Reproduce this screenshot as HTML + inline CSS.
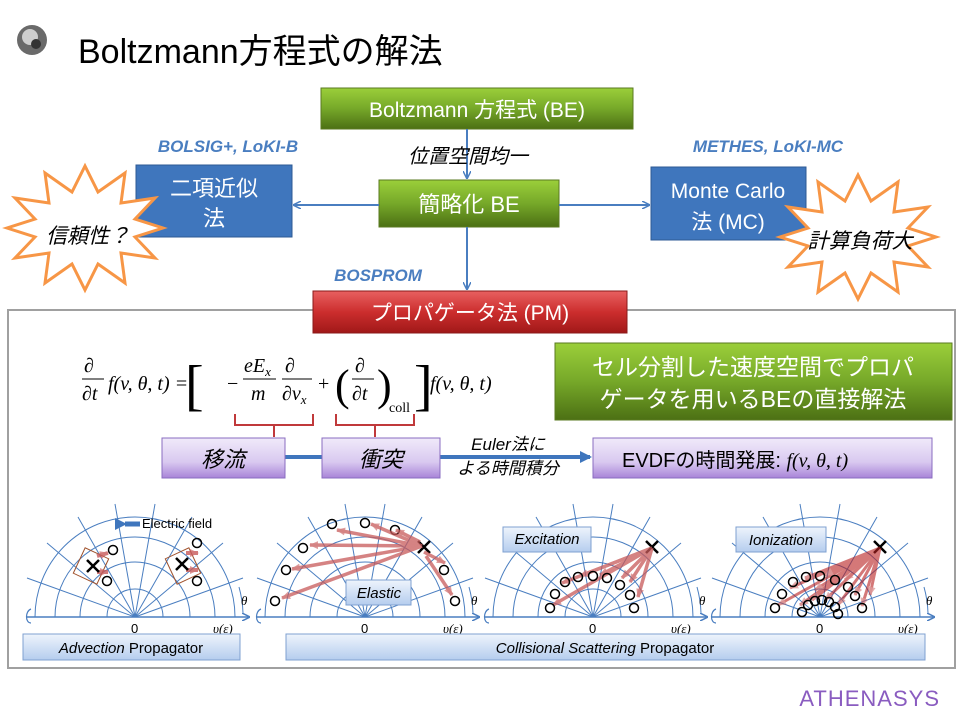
<!DOCTYPE html>
<html><head><meta charset="utf-8"><style>
html,body{margin:0;padding:0;background:#fff;}
svg{display:block;font-family:"Liberation Sans","Noto Sans CJK JP",sans-serif;}
.m{font-family:"Liberation Serif","DejaVu Serif",serif;font-style:italic;}
</style></head><body>
<svg width="960" height="720" viewBox="0 0 960 720" xmlns="http://www.w3.org/2000/svg">
<defs>
<linearGradient id="gg" x1="0" y1="0" x2="0" y2="1"><stop offset="0" stop-color="#9bcf3a"/><stop offset="0.5" stop-color="#76a829"/><stop offset="1" stop-color="#4c7014"/></linearGradient>
<linearGradient id="rg" x1="0" y1="0" x2="0" y2="1"><stop offset="0" stop-color="#e86060"/><stop offset="0.5" stop-color="#cc2e2e"/><stop offset="1" stop-color="#a01818"/></linearGradient>
<linearGradient id="pg" x1="0" y1="0" x2="0" y2="1"><stop offset="0" stop-color="#f0eafa"/><stop offset="0.6" stop-color="#d9c9f0"/><stop offset="1" stop-color="#a884d8"/></linearGradient>
<linearGradient id="lb" x1="0" y1="0" x2="0" y2="1"><stop offset="0" stop-color="#eef4fc"/><stop offset="1" stop-color="#b5cdee"/></linearGradient>
<marker id="ab" markerWidth="8" markerHeight="8" refX="7" refY="4" orient="auto" markerUnits="userSpaceOnUse"><path d="M0,0 L8,4 L0,8" fill="none" stroke="#4a7ec0" stroke-width="1.5"/></marker>
<marker id="abf" markerWidth="12" markerHeight="12" refX="10" refY="6" orient="auto" markerUnits="userSpaceOnUse"><path d="M0,0 L12,6 L0,12 z" fill="#3f76bd"/></marker>
<marker id="ar" markerWidth="10" markerHeight="10" refX="8" refY="5" orient="auto" markerUnits="userSpaceOnUse"><path d="M0,1 L9,5 L0,9 z" fill="#c85a5a" opacity="0.8"/></marker>
<polygon id="star" points="78,0 50,9 70,30 36,25 40,55 13,36 0,62 -13,36 -40,55 -36,25 -70,30 -50,9 -78,0 -50,-9 -70,-30 -36,-25 -40,-55 -13,-36 0,-62 13,-36 40,-55 36,-25 70,-30 50,-9" fill="#fff" stroke="#f79646" stroke-width="3" stroke-linejoin="miter"/>
<g id="grid" fill="none" stroke="#4a7ec0" stroke-width="1">
<path d="M-100,0 A100,100 0 0 1 100,0 M-80,0 A80,80 0 0 1 80,0 M-55,0 A55,55 0 0 1 55,0 M-28,0 A28,28 0 0 1 28,0"/>
<path d="M0,0 L108,-39 M0,0 L88,-74 M0,0 L57,-100 M0,0 L20,-113 M0,0 L-108,-39 M0,0 L-88,-74 M0,0 L-57,-100 M0,0 L-20,-113"/>
<path d="M-108,0 L114,0" stroke-width="1.5" marker-end="url(#ab)"/>
<path d="M-104,-8 C-110,-6 -110,6 -104,6" stroke-width="1.2"/>
<path d="M104,-30 A110,110 0 0 1 108,-4" stroke-width="1"/>
<text x="-4" y="16" font-size="13" fill="#000" stroke="none">0</text>
<text x="78" y="16" font-size="13" class="m" fill="#000" stroke="none">υ(ε)</text>
<text x="106" y="-12" font-size="13" class="m" fill="#000" stroke="none">θ</text>
</g>
</defs>

<!-- header -->
<circle cx="32" cy="40" r="15" fill="#6a6a6a"/><circle cx="30" cy="37" r="8" fill="#cfcfcf"/><circle cx="36" cy="44" r="5" fill="#333"/>
<text x="78" y="63" font-size="34" fill="#000">Boltzmann方程式の解法</text>

<!-- top flow -->
<rect x="321" y="88" width="312" height="41" fill="url(#gg)" stroke="#5a7a20" stroke-width="1"/>
<text x="477" y="117" font-size="21" fill="#fff" text-anchor="middle">Boltzmann 方程式 (BE)</text>
<line x1="467" y1="129" x2="467" y2="178" stroke="#4a7ec0" stroke-width="2" marker-end="url(#ab)"/>
<text x="468" y="163" font-size="20" font-style="italic" fill="#000" text-anchor="middle">位置空間均一</text>
<rect x="379" y="180" width="180" height="47" fill="url(#gg)" stroke="#5a7a20"/>
<text x="469" y="212" font-size="22" fill="#fff" text-anchor="middle">簡略化 BE</text>
<line x1="379" y1="205" x2="294" y2="205" stroke="#4a7ec0" stroke-width="2" marker-end="url(#ab)"/>
<line x1="559" y1="205" x2="649" y2="205" stroke="#4a7ec0" stroke-width="2" marker-end="url(#ab)"/>
<line x1="467" y1="227" x2="467" y2="289" stroke="#4a7ec0" stroke-width="2" marker-end="url(#ab)"/>

<text x="228" y="152" font-size="17" font-weight="bold" font-style="italic" fill="#4a7ec0" text-anchor="middle">BOLSIG+, LoKI-B</text>
<rect x="136" y="165" width="156" height="72" fill="#3f76bd" stroke="#2d5a94"/>
<text x="214" y="196" font-size="22" fill="#fff" text-anchor="middle">二項近似</text>
<text x="214" y="226" font-size="22" fill="#fff" text-anchor="middle">法</text>
<text x="768" y="152" font-size="17" font-weight="bold" font-style="italic" fill="#4a7ec0" text-anchor="middle">METHES, LoKI-MC</text>
<rect x="651" y="167" width="155" height="73" fill="#3f76bd" stroke="#2d5a94"/>
<text x="728" y="198" font-size="21" fill="#fff" text-anchor="middle">Monte Carlo</text>
<text x="728" y="229" font-size="21" fill="#fff" text-anchor="middle">法 (MC)</text>
<use href="#star" transform="translate(85,228)"/>
<text x="88" y="243" font-size="21" font-style="italic" fill="#000" text-anchor="middle">信頼性？</text>
<use href="#star" transform="translate(858,237)"/>
<text x="860" y="248" font-size="21" font-style="italic" fill="#000" text-anchor="middle">計算負荷大</text>
<text x="378" y="281" font-size="17" font-weight="bold" font-style="italic" fill="#4a7ec0" text-anchor="middle">BOSPROM</text>

<!-- main frame -->
<rect x="8" y="310" width="947" height="358" fill="#fff" stroke="#a0a0a0" stroke-width="2"/>
<rect x="313" y="291" width="314" height="42" fill="url(#rg)" stroke="#8a1a1a"/>
<text x="470" y="320" font-size="21" fill="#fff" text-anchor="middle">プロパゲータ法 (PM)</text>

<!-- formula -->
<g class="m" font-size="20" fill="#000">
<text x="84" y="372">∂</text><line x1="82" y1="379" x2="104" y2="379" stroke="#000" stroke-width="1"/><text x="82" y="400">∂t</text>
<text x="108" y="390">f(v, θ, t) =</text>
<text x="185" y="404" font-size="56" font-style="normal">[</text>
<text x="227" y="390" font-style="normal">−</text>
<text x="244" y="372">eE<tspan font-size="13" dy="4">x</tspan></text><line x1="243" y1="379" x2="276" y2="379" stroke="#000"/><text x="251" y="400">m</text>
<text x="285" y="372">∂</text><line x1="282" y1="379" x2="312" y2="379" stroke="#000"/><text x="282" y="400">∂v<tspan font-size="13" dy="4">x</tspan></text>
<text x="318" y="390" font-style="normal">+</text>
<text x="335" y="400" font-size="44" font-style="normal">(</text>
<text x="355" y="372">∂</text><line x1="352" y1="379" x2="374" y2="379" stroke="#000"/><text x="352" y="400">∂t</text>
<text x="377" y="400" font-size="44" font-style="normal">)</text>
<text x="389" y="412" font-size="14" font-style="normal">coll</text>
<text x="414" y="404" font-size="56" font-style="normal">]</text>
<text x="430" y="390">f(v, θ, t)</text>
</g>
<path d="M235,414 V425 H274 V437 M274,425 H313 V414" fill="none" stroke="#c0393b" stroke-width="2"/>
<path d="M336,414 V425 H375 V437 M375,425 H414 V414" fill="none" stroke="#c0393b" stroke-width="2"/>

<rect x="555" y="343" width="397" height="77" fill="url(#gg)" stroke="#5a7a20"/>
<text x="753" y="375" font-size="23" fill="#fff" text-anchor="middle">セル分割した速度空間でプロパ</text>
<text x="753" y="407" font-size="23" fill="#fff" text-anchor="middle">ゲータを用いるBEの直接解法</text>

<line x1="285" y1="457" x2="322" y2="457" stroke="#3f76bd" stroke-width="4"/>
<line x1="440" y1="457" x2="590" y2="457" stroke="#3f76bd" stroke-width="4" marker-end="url(#abf)"/>
<rect x="162" y="438" width="123" height="40" fill="url(#pg)" stroke="#8a6cc0"/>
<text x="223" y="467" font-size="22" font-style="italic" fill="#000" text-anchor="middle">移流</text>
<rect x="322" y="438" width="118" height="40" fill="url(#pg)" stroke="#8a6cc0"/>
<text x="381" y="467" font-size="22" font-style="italic" fill="#000" text-anchor="middle">衝突</text>
<text x="508" y="450" font-size="17" font-style="italic" fill="#000" text-anchor="middle">Euler法に</text>
<text x="508" y="474" font-size="17" font-style="italic" fill="#000" text-anchor="middle">よる時間積分</text>
<rect x="593" y="438" width="339" height="40" fill="url(#pg)" stroke="#8a6cc0"/>
<text x="622" y="467" font-size="20" fill="#000">EVDFの時間発展: <tspan class="m">f(v, θ, t)</tspan></text>

<!-- diagrams -->
<use href="#grid" transform="translate(135,617)"/>
<use href="#grid" transform="translate(365,617)"/>
<use href="#grid" transform="translate(593,617)"/>
<use href="#grid" transform="translate(820,617)"/>

<!-- advection -->
<path d="M125,524 H140" stroke="#3f76bd" stroke-width="5" marker-start="url(#abf)"/>
<text x="142" y="528" font-size="13" fill="#000">Electric field</text>
<rect x="78" y="552" width="26" height="28" fill="none" stroke="#a0522d" transform="rotate(25 91 566)"/>
<rect x="170" y="552" width="26" height="28" fill="none" stroke="#a0522d" transform="rotate(-25 183 566)"/>
<g stroke="#c85a5a" stroke-width="4" opacity="0.8" marker-end="url(#ar)"><line x1="97" y1="556" x2="108" y2="553"/><line x1="97" y1="572" x2="108" y2="572"/><line x1="186" y1="553" x2="198" y2="553"/><line x1="186" y1="570" x2="198" y2="570"/></g>
<g fill="none" stroke="#000" stroke-width="1.5"><circle cx="113" cy="550" r="4.5"/><circle cx="107" cy="581" r="4.5"/><circle cx="197" cy="543" r="4.5"/><circle cx="197" cy="581" r="4.5"/><circle cx="303" cy="548" r="4.5"/><circle cx="332" cy="524" r="4.5"/><circle cx="365" cy="523" r="4.5"/><circle cx="395" cy="530" r="4.5"/><circle cx="286" cy="570" r="4.5"/><circle cx="275" cy="601" r="4.5"/><circle cx="444" cy="570" r="4.5"/><circle cx="455" cy="601" r="4.5"/></g>
<g stroke="#000" stroke-width="2.5"><path d="M87,560 l12,12 M99,560 l-12,12 M176,558 l12,12 M188,558 l-12,12 M418,541 l12,12 M430,541 l-12,12 M646,541 l12,12 M658,541 l-12,12 M874,541 l12,12 M886,541 l-12,12"/></g>
<!-- elastic arrows -->
<g stroke="#c85a5a" stroke-width="3.5" opacity="0.75" marker-end="url(#ar)"><line x1="422" y1="546" x2="337" y2="530"/><line x1="422" y1="546" x2="371" y2="524"/><line x1="422" y1="546" x2="310" y2="545"/><line x1="422" y1="546" x2="292" y2="569"/><line x1="422" y1="546" x2="282" y2="598"/><line x1="424" y1="552" x2="445" y2="563"/><line x1="426" y1="556" x2="452" y2="595"/><line x1="420" y1="542" x2="396" y2="530"/></g>
<rect x="346" y="580" width="65" height="25" fill="url(#lb)" stroke="#7fa0d0"/>
<text x="379" y="598" font-size="15" font-style="italic" fill="#000" text-anchor="middle">Elastic</text>
<!-- excitation -->
<g stroke="#c85a5a" stroke-width="3.5" opacity="0.75" marker-end="url(#ar)"><line x1="652" y1="548" x2="562" y2="583"/><line x1="652" y1="548" x2="553" y2="605"/><line x1="652" y1="548" x2="580" y2="576"/><line x1="652" y1="548" x2="600" y2="575"/><line x1="652" y1="548" x2="630" y2="582"/><line x1="652" y1="548" x2="638" y2="597"/><line x1="652" y1="548" x2="622" y2="578"/></g>
<g fill="none" stroke="#000" stroke-width="1.5"><circle cx="550" cy="608" r="4.5"/><circle cx="555" cy="594" r="4.5"/><circle cx="565" cy="582" r="4.5"/><circle cx="578" cy="577" r="4.5"/><circle cx="593" cy="576" r="4.5"/><circle cx="607" cy="578" r="4.5"/><circle cx="620" cy="585" r="4.5"/><circle cx="630" cy="595" r="4.5"/><circle cx="634" cy="608" r="4.5"/></g>
<rect x="503" y="527" width="88" height="25" fill="url(#lb)" stroke="#7fa0d0"/>
<text x="547" y="544" font-size="15" font-style="italic" fill="#000" text-anchor="middle">Excitation</text>
<!-- ionization -->
<g stroke="#b82020" stroke-width="3" opacity="0.6" marker-end="url(#ar)"><line x1="880" y1="548" x2="790" y2="588"/><line x1="880" y1="548" x2="778" y2="605"/><line x1="880" y1="548" x2="805" y2="578"/><line x1="880" y1="548" x2="825" y2="575"/><line x1="880" y1="548" x2="845" y2="580"/><line x1="880" y1="548" x2="855" y2="595"/><line x1="880" y1="548" x2="862" y2="606"/><line x1="880" y1="548" x2="800" y2="605"/><line x1="880" y1="548" x2="812" y2="600"/><line x1="880" y1="548" x2="825" y2="600"/><line x1="880" y1="548" x2="838" y2="605"/><line x1="880" y1="548" x2="870" y2="595"/><line x1="880" y1="548" x2="815" y2="590"/></g>
<g fill="none" stroke="#000" stroke-width="1.5"><circle cx="775" cy="608" r="4.5"/><circle cx="782" cy="594" r="4.5"/><circle cx="793" cy="582" r="4.5"/><circle cx="806" cy="577" r="4.5"/><circle cx="820" cy="576" r="4.5"/><circle cx="835" cy="580" r="4.5"/><circle cx="848" cy="587" r="4.5"/><circle cx="855" cy="596" r="4.5"/><circle cx="862" cy="608" r="4.5"/><circle cx="802" cy="612" r="4.5"/><circle cx="808" cy="605" r="4.5"/><circle cx="815" cy="601" r="4.5"/><circle cx="822" cy="600" r="4.5"/><circle cx="829" cy="602" r="4.5"/><circle cx="835" cy="607" r="4.5"/><circle cx="838" cy="614" r="4.5"/></g>
<rect x="736" y="527" width="90" height="25" fill="url(#lb)" stroke="#7fa0d0"/>
<text x="781" y="545" font-size="15" font-style="italic" fill="#000" text-anchor="middle">Ionization</text>

<!-- bottom labels -->
<rect x="23" y="634" width="217" height="26" fill="url(#lb)" stroke="#7fa0d0"/>
<text x="131" y="653" font-size="15" fill="#000" text-anchor="middle"><tspan font-style="italic">Advection</tspan> Propagator</text>
<rect x="286" y="634" width="639" height="26" fill="url(#lb)" stroke="#7fa0d0"/>
<text x="605" y="653" font-size="15" fill="#000" text-anchor="middle"><tspan font-style="italic">Collisional Scattering</tspan> Propagator</text>

<text x="940" y="706" font-size="22" fill="#8a5cc0" text-anchor="end" letter-spacing="1">ATHENASYS</text>
</svg>
</body></html>
